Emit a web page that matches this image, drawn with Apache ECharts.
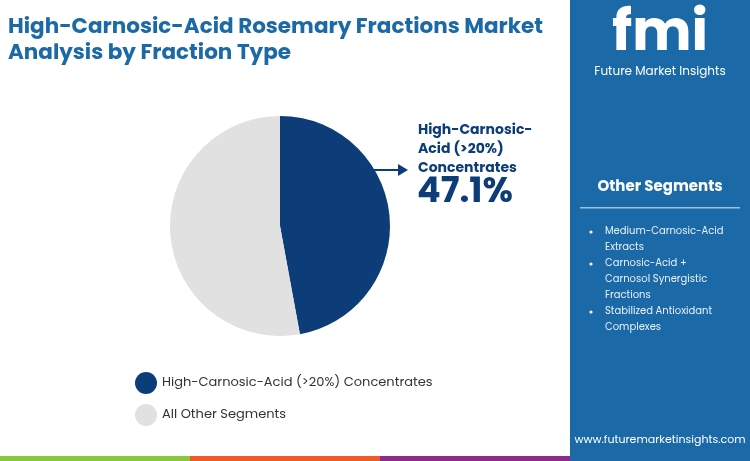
<!DOCTYPE html>
<html><head><meta charset="utf-8">
<script src="https://cdn.jsdelivr.net/npm/echarts@6/dist/echarts.min.js"></script>
<style>html,body{margin:0;padding:0;background:#fff}#c{width:750px;height:461px}</style>
</head><body><div id="c"></div>
<script>
var names = ['High-Carnosic-Acid (>20%) Concentrates', 'All Other Segments'];
var values = [47.1, 52.9];
var colors = ['#0c3d78', '#e1e1e1'];
var others = ['Medium-Carnosic-Acid', 'Extracts', 'Carnosic-Acid +', 'Carnosol Synergistic', 'Fractions', 'Stabilized Antioxidant', 'Complexes'];
var bullets = [true, false, true, false, false, true, false];

var myChart = echarts.init(document.getElementById('c'));
var navy = '#0c3d78';
var f = 'Poppins, "Open Sans", sans-serif';
var graphics = [
	{type: 'rect', shape: {x: 570, y: 0, width: 180, height: 461}, style: {fill: '#1b6aa7'}},
	{type: 'rect', shape: {x: 0, y: 456, width: 190, height: 5}, style: {fill: '#8cc63f'}},
	{type: 'rect', shape: {x: 190, y: 456, width: 190, height: 5}, style: {fill: '#f05a28'}},
	{type: 'rect', shape: {x: 380, y: 456, width: 190, height: 5}, style: {fill: '#8e2a8a'}},
	{type: 'text', left: 8, top: 15, style: {text: 'High-Carnosic-Acid Rosemary Fractions Market\nAnalysis by Fraction Type', fill: '#1b6aa7', font: 'bold 21.5px ' + f, lineHeight: 26}},
	{type: 'text', x: 660, y: 8, style: {text: 'fmi', fill: '#fff', font: 'bold 56px ' + f, align: 'center'}},
	{type: 'text', x: 660, y: 66, style: {text: 'Future Market Insights', fill: '#fff', font: '12px ' + f, align: 'center'}},
	{type: 'text', x: 660, y: 180, style: {text: 'Other Segments', fill: '#fff', font: 'bold 15px ' + f, align: 'center'}},
	{type: 'rect', shape: {x: 580, y: 207, width: 160, height: 1.5}, style: {fill: '#9cc2e2'}},
	{type: 'text', x: 660, y: 435, style: {text: 'www.futuremarketinsights.com', fill: '#fff', font: '11px ' + f, align: 'center'}},
	{type: 'line', shape: {x1: 368, y1: 170, x2: 400, y2: 170}, style: {stroke: navy, lineWidth: 2}},
	{type: 'polygon', shape: {points: [[408, 170], [398, 164], [398, 176]]}, style: {fill: navy}},
	{type: 'text', x: 418, y: 121, style: {text: 'High-Carnosic-\nAcid (>20%)\nConcentrates', fill: navy, font: 'bold 14px ' + f, lineHeight: 19}},
	{type: 'text', x: 417, y: 176, style: {text: '47.1%', fill: navy, font: 'bold 35px ' + f}}
];
for (var i = 0; i < others.length; i++) {
	var y = 226 + i * 16;
	if (bullets[i]) graphics.push({type: 'circle', shape: {cx: 591, cy: y + 6, r: 1.6}, style: {fill: '#fff'}});
	graphics.push({type: 'text', x: 605, y: y, style: {text: others[i], fill: '#e8f0f8', font: '10px ' + f}});
}

option = {
	animation: false,
	color: colors,
	legend: {
		orient: 'vertical', left: 130, top: 367, itemGap: 10,
		icon: 'circle', itemWidth: 22, itemHeight: 22,
		textStyle: {fontSize: 13, color: '#333', fontFamily: f},
		data: names
	},
	graphic: graphics,
	series: [{
		type: 'pie', radius: 110, center: [280, 226], startAngle: 90, clockwise: true,
		label: {show: false}, labelLine: {show: false},
		data: names.map(function (n, i) { return {name: n, value: values[i]}; })
	}]
};
myChart.setOption(option);
</script></body></html>
